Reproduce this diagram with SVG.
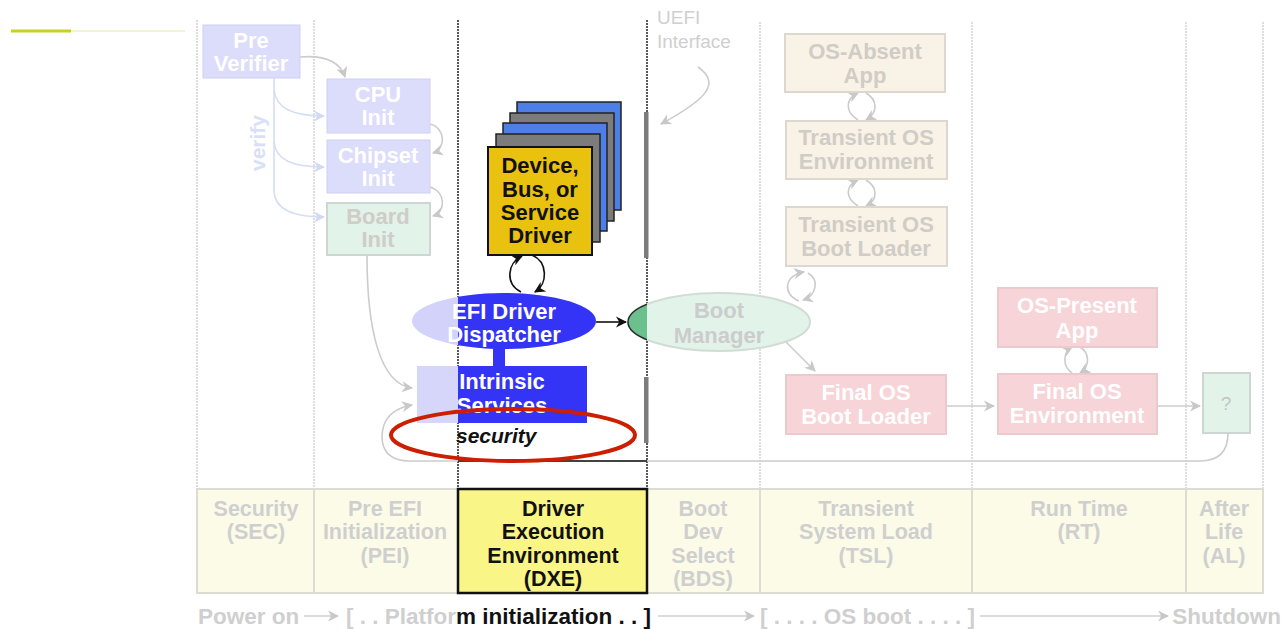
<svg xmlns="http://www.w3.org/2000/svg" width="1282" height="629" viewBox="0 0 1282 629">
<defs>
<style>
text { font-family: "Liberation Sans", Arial, sans-serif; font-weight: bold; }
.n { font-size: 22px; text-anchor: middle; }
.ph { font-size: 21.5px; text-anchor: middle; fill: #cfcfcf; }
.wt { fill: #ffffff; }
.gt { fill: #d0ccc6; }
.col { stroke: #d4d4d4; stroke-width: 1.5; stroke-dasharray: 2 1; fill: none; }
.dxl { stroke: #222222; stroke-width: 1.5; stroke-dasharray: 2 1; fill: none; }
.cg { fill: none; stroke: #cccccc; stroke-width: 1.6; marker-end: url(#ag); }
.cl { fill: none; stroke: #d6def6; stroke-width: 1.6; marker-end: url(#al); }
.cb { fill: none; stroke: #111111; stroke-width: 1.6; marker-end: url(#ab); }
.fb { fill: #dcdcfb; stroke: #d0d0f4; stroke-width: 1; }
.fgr { fill: #e2f3ea; stroke: #cdd6d0; stroke-width: 2; }
.fbe { fill: #f9f2e7; stroke: #ddd8cf; stroke-width: 2; }
.fpk { fill: #f6d4d8; stroke: #ebc9cd; stroke-width: 2; }
.card { stroke: #222222; stroke-width: 1.5; }
.tl { font-size: 22.5px; }
</style>
<marker id="ag" viewBox="0 0 10 10" refX="9" refY="5" markerWidth="7" markerHeight="7" orient="auto"><path d="M0,0 L10,5 L0,10 L3,5 z" fill="#c8c8c8"/></marker>
<marker id="al" viewBox="0 0 10 10" refX="9" refY="5" markerWidth="7" markerHeight="7" orient="auto"><path d="M0,0 L10,5 L0,10 L3,5 z" fill="#d0daf4"/></marker>
<marker id="ab" viewBox="0 0 10 10" refX="9" refY="5" markerWidth="7" markerHeight="7" orient="auto"><path d="M0,0 L10,5 L0,10 L3,5 z" fill="#111111"/></marker>
<clipPath id="dxeClip"><rect x="458" y="0" width="189" height="629"/></clipPath>
<clipPath id="preBds"><rect x="0" y="0" width="647" height="629"/></clipPath>
</defs>

<rect width="1282" height="629" fill="#ffffff"/>

<!-- header rule -->
<line x1="11" y1="31" x2="71" y2="31" stroke="#c6d21c" stroke-width="3"/>
<line x1="71" y1="31" x2="185" y2="31" stroke="#eef0c2" stroke-width="1.5"/>

<!-- phase column dividers -->
<g id="columns">
<line class="col" x1="197" y1="20" x2="197" y2="489"/>
<line class="col" x1="314" y1="20" x2="314" y2="489"/>
<line class="col" x1="760" y1="22" x2="760" y2="489"/>
<line class="col" x1="972" y1="22" x2="972" y2="489"/>
<line class="col" x1="1186" y1="22" x2="1186" y2="489"/>
<line class="col" x1="1263" y1="22" x2="1263" y2="489"/>
<line class="dxl" x1="458" y1="20" x2="458" y2="489"/>
<line class="dxl" x1="647" y1="20" x2="647" y2="489"/>
<rect x="644" y="112" width="4.5" height="146" fill="#7c7c7c"/>
<rect x="644" y="377" width="4.5" height="66" fill="#7c7c7c"/>
</g>

<!-- phase band -->
<g id="phases">
<rect x="197" y="489" width="1066" height="104" fill="#fbfbe7" stroke="#dcdcd2" stroke-width="2"/>
<line x1="314" y1="489" x2="314" y2="593" stroke="#dcdcd2" stroke-width="2"/>
<line x1="760" y1="489" x2="760" y2="593" stroke="#dcdcd2" stroke-width="2"/>
<line x1="972" y1="489" x2="972" y2="593" stroke="#dcdcd2" stroke-width="2"/>
<line x1="1186" y1="489" x2="1186" y2="593" stroke="#dcdcd2" stroke-width="2"/>
<text class="ph" x="256" y="516">Security</text>
<text class="ph" x="256" y="539">(SEC)</text>
<text class="ph" x="385" y="516">Pre EFI</text>
<text class="ph" x="385" y="539">Initialization</text>
<text class="ph" x="385" y="563">(PEI)</text>
<text class="ph" x="703" y="516">Boot</text>
<text class="ph" x="703" y="539">Dev</text>
<text class="ph" x="703" y="563">Select</text>
<text class="ph" x="703" y="586">(BDS)</text>
<text class="ph" x="866" y="516">Transient</text>
<text class="ph" x="866" y="539">System Load</text>
<text class="ph" x="866" y="563">(TSL)</text>
<text class="ph" x="1079" y="516">Run Time</text>
<text class="ph" x="1079" y="539">(RT)</text>
<text class="ph" x="1224" y="516">After</text>
<text class="ph" x="1224" y="539">Life</text>
<text class="ph" x="1224" y="563">(AL)</text>
</g>
<g id="dxe-phase">
<rect x="458" y="489" width="189" height="104" fill="#f9f586" stroke="#111111" stroke-width="2.5"/>
<text class="ph" x="553" y="516" style="fill:#111">Driver</text>
<text class="ph" x="553" y="539" style="fill:#111">Execution</text>
<text class="ph" x="553" y="563" style="fill:#111">Environment</text>
<text class="ph" x="553" y="586" style="fill:#111">(DXE)</text>
</g>

<!-- timeline -->
<g id="timeline">
<text class="tl" x="198" y="624" fill="#cfcfcf">Power on</text>
<line x1="304" y1="616" x2="338" y2="616" stroke="#cfcfcf" stroke-width="1.6" marker-end="url(#ag)"/>
<text class="tl" x="456" y="624" fill="#cfcfcf" text-anchor="end">[ . . Platfor</text>
<text class="tl" x="456" y="624" fill="#111111">m initialization . . ]</text>
<line x1="658" y1="616" x2="754" y2="616" stroke="#cfcfcf" stroke-width="1.6" marker-end="url(#ag)"/>
<text class="tl" x="760" y="624" fill="#cfcfcf">[ . . . . OS boot . . . . ]</text>
<line x1="980" y1="616" x2="1168" y2="616" stroke="#cfcfcf" stroke-width="1.6" marker-end="url(#ag)"/>
<text class="tl" x="1281" y="624" fill="#cfcfcf" text-anchor="end">Shutdown</text>
</g>

<!-- connectors -->
<g id="connectors">
<path class="cl" d="M274,78 L274,190 C274,208 290,217 324,217"/>
<path class="cl" d="M274,90 C276,108 292,116 324,116"/>
<path class="cl" d="M274,142 C276,160 292,167 324,167"/>
<path class="cg" d="M300,57 C325,55 340,62 345,77"/>
<path class="cg" d="M430,124 C446,128 446,149 433,153"/>
<path class="cg" d="M430,187 C446,192 446,212 433,216"/>
<path class="cg" d="M367,255 C367,330 380,384 412,388"/>
<path class="cg" d="M1228,433 Q1228,461 1200,461 L410,461 Q382,461 382,436 Q383,410 412,405"/>
<line x1="458" y1="461" x2="647" y2="461" stroke="#111111" stroke-width="1.6"/>
<path class="cg" d="M698,67 C722,84 705,100 661,124"/>
<path class="cb" d="M521,292 C505,284 507,263 522,256"/>
<path class="cb" d="M532,255 C548,262 548,284 535,292"/>
<line class="cb" x1="596" y1="322" x2="626" y2="322"/>
<path class="cg" d="M858,120 C845,112 845,99 858,93"/>
<path class="cg" d="M866,93 C878,100 878,113 866,120"/>
<path class="cg" d="M858,206 C845,198 845,186 858,180"/>
<path class="cg" d="M866,180 C878,187 878,200 866,206"/>
<path class="cg" d="M799,301 C782,294 784,275 804,272"/>
<path class="cg" d="M808,273 C820,280 816,296 803,300"/>
<line class="cg" x1="786" y1="342" x2="815" y2="371"/>
<line class="cg" x1="946" y1="406" x2="994" y2="406"/>
<path class="cg" d="M1072,373 C1062,366 1063,352 1072,347"/>
<path class="cg" d="M1080,347 C1090,353 1090,367 1080,373"/>
<line class="cg" x1="1157" y1="406" x2="1200" y2="406"/>
<rect x="493" y="347" width="12" height="20" fill="#3434f6"/>
</g>

<text x="258" y="143" font-size="21" fill="#d8e0f8" text-anchor="middle" transform="rotate(-90 258 143)" dy="7">verify</text>
<g id="uefi-label" fill="#cfcfcf" font-size="19">
<text x="657" y="24" style="font-weight:normal">UEFI</text>
<text x="657" y="48" style="font-weight:normal">Interface</text>
</g>

<g id="pre-verifier"><rect class="fb" x="203" y="25" width="97" height="53"/><text class="n wt" x="251" y="48">Pre</text><text class="n wt" x="251" y="71">Verifier</text></g>
<g id="cpu-init"><rect class="fb" x="327" y="79" width="103" height="54"/><text class="n wt" x="378" y="102">CPU</text><text class="n wt" x="378" y="125">Init</text></g>
<g id="chipset-init"><rect class="fb" x="327" y="140" width="103" height="53"/><text class="n wt" x="378" y="163">Chipset</text><text class="n wt" x="378" y="186">Init</text></g>
<g id="board-init"><rect class="fgr" x="327" y="203" width="103" height="52"/><text class="n gt" x="378" y="224">Board</text><text class="n gt" x="378" y="247">Init</text></g>

<g id="driver-stack">
<rect class="card" x="517" y="102" width="104" height="108" fill="#4d7fe6"/>
<rect class="card" x="510" y="113" width="104" height="108" fill="#7c7c7c"/>
<rect class="card" x="503" y="123" width="104" height="108" fill="#4d7fe6"/>
<rect class="card" x="496" y="134" width="104" height="108" fill="#7c7c7c"/>
<rect x="488" y="147" width="104" height="108" fill="#e9c20f" stroke="#111111" stroke-width="2"/>
<text class="n" x="540" y="173" fill="#111">Device,</text>
<text class="n" x="540" y="197" fill="#111">Bus, or</text>
<text class="n" x="540" y="220" fill="#111">Service</text>
<text class="n" x="540" y="243" fill="#111">Driver</text>
</g>

<g id="dispatcher">
<ellipse cx="504" cy="321" rx="92" ry="28" fill="#d2d2fa"/>
<ellipse cx="504" cy="321" rx="92" ry="28" fill="#3434f6" clip-path="url(#dxeClip)"/>
<text class="n wt" x="504" y="319">EFI Driver</text>
<text class="n wt" x="504" y="342">Dispatcher</text>
</g>

<g id="intrinsic-services">
<rect x="417" y="366" width="170" height="57" fill="#d6d6fa"/>
<rect x="417" y="366" width="170" height="57" fill="#3434f6" clip-path="url(#dxeClip)"/>
<text class="n wt" x="502" y="389">Intrinsic</text>
<text class="n wt" x="502" y="413">Services</text>
</g>

<g id="boot-manager">
<ellipse cx="719" cy="322" rx="91" ry="29" fill="#e2f3ea" stroke="#d0dcd4" stroke-width="2"/>
<ellipse cx="719" cy="322" rx="91" ry="29" fill="#6cc08e" stroke="#2a2a2a" stroke-width="1.5" clip-path="url(#preBds)"/>
<text class="n" x="719" y="318" fill="#cccccc">Boot</text>
<text class="n" x="719" y="343" fill="#cccccc">Manager</text>
</g>

<g id="os-absent-app"><rect class="fbe" x="785" y="34" width="160" height="58"/><text class="n gt" x="865" y="59">OS-Absent</text><text class="n gt" x="865" y="83">App</text></g>
<g id="transient-os-env"><rect class="fbe" x="786" y="121" width="161" height="58"/><text class="n gt" x="866" y="145">Transient OS</text><text class="n gt" x="866" y="169">Environment</text></g>
<g id="transient-os-loader"><rect class="fbe" x="786" y="207" width="161" height="59"/><text class="n gt" x="866" y="232">Transient OS</text><text class="n gt" x="866" y="256">Boot Loader</text></g>
<g id="final-os-loader"><rect class="fpk" x="786" y="375" width="160" height="59"/><text class="n wt" x="866" y="400">Final OS</text><text class="n wt" x="866" y="424">Boot Loader</text></g>
<g id="os-present-app"><rect class="fpk" x="998" y="288" width="159" height="59"/><text class="n wt" x="1077" y="313">OS-Present</text><text class="n wt" x="1077" y="338">App</text></g>
<g id="final-os-env"><rect class="fpk" x="998" y="374" width="159" height="60"/><text class="n wt" x="1077" y="399">Final OS</text><text class="n wt" x="1077" y="423">Environment</text></g>
<g id="after-life"><rect class="fgr" x="1203" y="373" width="47" height="60"/><text x="1226" y="410" font-size="19" fill="#c4c4c4" text-anchor="middle" style="font-weight:normal">?</text></g>

<!-- emphasis -->
<g id="security-mark">
<text x="456" y="443" font-size="21" font-style="italic" fill="#111111">security</text>
<ellipse cx="513" cy="435" rx="122" ry="26" fill="none" stroke="#cc1e00" stroke-width="4"/>
</g>
</svg>
